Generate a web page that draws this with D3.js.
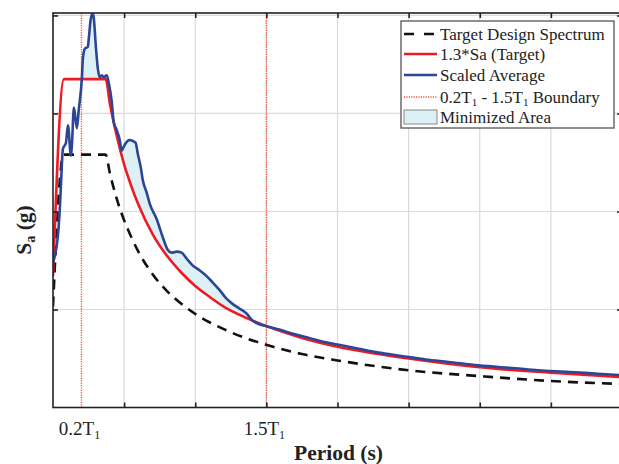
<!DOCTYPE html>
<html>
  <head>
    <meta charset="utf-8">
    <title>Scaled spectrum vs target</title>
    <script type="text/javascript" src="https://d3js.org/d3.v7.min.js"></script>
    <style>
      body { margin: 0; background: #fff; }
      text { font-family: "Liberation Serif", "Times New Roman", serif; }
    </style>
  </head>

  <body>
    <script>

    // target design spectrum
    var designT  = [0, 0.074, 0.37, 0.4, 0.45, 0.5, 0.55, 0.6, 0.7, 0.8, 0.9, 1.0, 1.1, 1.2, 1.35, 1.5, 1.75, 2.0, 2.5, 3.0, 3.5, 4.0];
    var designSa = [1.03, 2.58, 2.58, 2.39, 2.12, 1.91, 1.74, 1.59, 1.36, 1.19, 1.06, 0.955, 0.87, 0.80, 0.71, 0.64, 0.545, 0.48, 0.38, 0.32, 0.27, 0.24];

    // 1.3*Sa (red)
    var targetT  = [0, 0.077, 0.37, 0.4, 0.45, 0.5, 0.55, 0.6, 0.7, 0.8, 0.9, 1.0, 1.1, 1.2, 1.35, 1.5, 1.75, 2.0, 2.5, 3.0, 3.5, 4.0];
    var targetSa = [1.34, 3.35, 3.35, 3.10, 2.76, 2.48, 2.26, 2.07, 1.77, 1.55, 1.38, 1.24, 1.13, 1.03, 0.92, 0.83, 0.71, 0.62, 0.50, 0.41, 0.355, 0.31];

    // scaled average (blue)
    var avgT  = [0, 0.014, 0.035, 0.049, 0.056, 0.063, 0.07, 0.091, 0.105, 0.126, 0.133, 0.147, 0.168, 0.182, 0.203, 0.21, 0.224, 0.245, 0.252, 0.266, 0.28, 0.287, 0.301, 0.315, 0.329, 0.343, 0.357, 0.378, 0.392, 0.413, 0.427, 0.448, 0.469, 0.483, 0.497, 0.518, 0.539, 0.56, 0.581, 0.596, 0.617, 0.631, 0.659, 0.68, 0.729, 0.771, 0.806, 0.834, 0.869, 0.904, 0.939, 0.981, 1.03, 1.08, 1.12, 1.17, 1.22, 1.26, 1.31, 1.36, 1.40, 1.45, 1.50, 1.59, 1.68, 1.80, 1.92, 2.01, 2.15, 2.27, 2.38, 2.50, 2.62, 2.78, 2.99, 3.25, 3.41, 3.60, 3.83, 4.0];
    var avgSa = [1.48, 1.55, 1.76, 2.06, 2.27, 2.50, 2.64, 2.70, 2.88, 2.57, 2.68, 3.06, 2.85, 3.05, 3.36, 3.56, 3.66, 3.68, 3.77, 3.97, 4.02, 3.97, 3.69, 3.46, 3.37, 3.39, 3.37, 3.39, 3.31, 3.12, 2.91, 2.83, 2.73, 2.62, 2.66, 2.71, 2.73, 2.72, 2.70, 2.59, 2.45, 2.32, 2.19, 2.08, 1.92, 1.74, 1.61, 1.58, 1.59, 1.58, 1.52, 1.45, 1.40, 1.34, 1.28, 1.20, 1.11, 1.06, 1.01, 0.96, 0.89, 0.85, 0.83, 0.795, 0.755, 0.71, 0.665, 0.64, 0.60, 0.565, 0.54, 0.515, 0.49, 0.465, 0.43, 0.40, 0.38, 0.365, 0.345, 0.33];

    var boundaries = [0.2, 1.5];                    // 0.2T1 and 1.5T1 (T1 = 1 s)
    var boundaryLabels = ["0.2", "1.5"];
    var xGrid = [0.5, 1, 1.5, 2, 2.5, 3, 3.5];
    var yGrid = [1, 2, 3, 4];

    var width = 619, height = 464;
    var margin = {left: 53, top: 13, right: -3, bottom: 56.5};
    var plotW = width - margin.left - margin.right,
        plotH = height - margin.top - margin.bottom;

    var x = d3.scaleLinear().domain([0, 4]).range([0, plotW]);
    var y = d3.scaleLinear().domain([0, 4.025]).range([plotH, 0]);

    var svg = d3.select('body')
                .append('svg')
                .attr("width", width)
                .attr("height", height);

    svg.append("defs").append("clipPath")
       .attr("id", "plotClip")
       .append("rect")
       .attr("width", plotW)
       .attr("height", plotH);

    var g = svg.append('g')
               .attr("transform", "translate(" + margin.left + "," + margin.top + ")");

    // grid
    g.selectAll(".vgrid").data(xGrid).enter().append("line")
     .attr("x1", function(d) { return x(d); }).attr("x2", function(d) { return x(d); })
     .attr("y1", 0).attr("y2", plotH)
     .attr("stroke", "#dadada").attr("stroke-width", 1.2);
    g.selectAll(".hgrid").data(yGrid).enter().append("line")
     .attr("y1", function(d) { return y(d); }).attr("y2", function(d) { return y(d); })
     .attr("x1", 0).attr("x2", plotW)
     .attr("stroke", "#dadada").attr("stroke-width", 1.2);

    function pts(ts, vs) { return ts.map(function(t, i) { return [t, vs[i]]; }); }
    var design = pts(designT, designSa),
        target = pts(targetT, targetSa),
        avg = pts(avgT, avgSa);

    var line = d3.line()
                 .x(function(d) { return x(d[0]); })
                 .y(function(d) { return y(d[1]); })
                 .curve(d3.curveMonotoneX);

    var plot = g.append("g").attr("clip-path", "url(#plotClip)");

    // minimized area between blue and red inside the boundaries
    var redAt = function(t) {
      var i = d3.bisectRight(targetT, t);
      if (i <= 0) return targetSa[0];
      if (i >= targetT.length) return targetSa[targetSa.length - 1];
      var f = (t - targetT[i - 1]) / (targetT[i] - targetT[i - 1]);
      return targetSa[i - 1] + f * (targetSa[i] - targetSa[i - 1]);
    };
    var area = d3.area()
                 .x(function(d) { return x(d[0]); })
                 .y0(function(d) { return y(redAt(d[0])); })
                 .y1(function(d) { return y(Math.max(d[1], redAt(d[0]))); })
                 .curve(d3.curveMonotoneX);

    plot.append("clipPath").attr("id", "bandClip")
        .append("rect")
        .attr("x", x(boundaries[0])).attr("width", x(boundaries[1]) - x(boundaries[0]))
        .attr("y", 0).attr("height", plotH);

    plot.append("path")
        .datum(avg)
        .attr("clip-path", "url(#bandClip)")
        .attr("d", area)
        .attr("fill", "#ddf0f6");

    // boundary lines
    plot.selectAll(".bound").data(boundaries).enter().append("line")
        .attr("x1", function(d) { return x(d); }).attr("x2", function(d) { return x(d); })
        .attr("y1", 0).attr("y2", plotH)
        .attr("stroke", "#f4553a").attr("stroke-width", 1.4)
        .attr("stroke-dasharray", "1.2,1.2");

    plot.append("path").datum(design).attr("d", line)
        .attr("fill", "none").attr("stroke", "#111").attr("stroke-width", 2.6)
        .attr("stroke-dasharray", "10,7");
    plot.append("path").datum(target).attr("d", line)
        .attr("fill", "none").attr("stroke", "#ed1c24").attr("stroke-width", 2.6);
    plot.append("path").datum(avg).attr("d", line)
        .attr("fill", "none").attr("stroke", "#2b4597").attr("stroke-width", 2.6);

    // box with inward ticks on all sides
    g.append("rect").attr("width", plotW).attr("height", plotH)
     .attr("fill", "none").attr("stroke", "#222").attr("stroke-width", 1.6);

    var tickLen = 5;
    g.append("g").attr("transform", "translate(0," + plotH + ")")
     .call(d3.axisBottom(x).tickValues(xGrid).tickSizeInner(-tickLen).tickSizeOuter(0).tickFormat(""));
    g.append("g")
     .call(d3.axisTop(x).tickValues(xGrid).tickSizeInner(-tickLen).tickSizeOuter(0).tickFormat(""));
    g.append("g")
     .call(d3.axisLeft(y).tickValues(yGrid).tickSizeInner(-tickLen).tickSizeOuter(0).tickFormat(""));
    g.append("g").attr("transform", "translate(" + plotW + ",0)")
     .call(d3.axisRight(y).tickValues(yGrid).tickSizeInner(-tickLen).tickSizeOuter(0).tickFormat(""));
    g.selectAll(".domain").remove();
    g.selectAll(".tick line").attr("stroke", "#222").attr("stroke-width", 1.6);

    // boundary tick labels
    var lab = g.selectAll(".blab").data(boundaries).enter().append("text")
               .attr("x", function(d) { return x(d) - 2; })
               .attr("y", plotH + 27)
               .attr("text-anchor", "middle")
               .attr("font-size", 19)
               .attr("fill", "#222");
    lab.append("tspan").text(function(d, i) { return boundaryLabels[i] + "T"; });
    lab.append("tspan").attr("font-size", 12).attr("dy", 4).text("1");

    // axis titles
    svg.append("text")
       .attr("x", margin.left + plotW / 2 + 1)
       .attr("y", 460)
       .attr("text-anchor", "middle")
       .attr("font-size", 21.5).attr("font-weight", "bold").attr("fill", "#222")
       .text("Period (s)");

    var yl = svg.append("text")
       .attr("transform", "translate(31,230) rotate(-90)")
       .attr("text-anchor", "middle")
       .attr("font-size", 21.5).attr("font-weight", "bold").attr("fill", "#222");
    yl.append("tspan").text("S");
    yl.append("tspan").attr("font-size", 14).attr("dy", 4).text("a");
    yl.append("tspan").attr("dy", -4).text(" (g)");

    // legend
    var lg = svg.append("g").attr("transform", "translate(401,21)");
    lg.append("rect").attr("width", 213).attr("height", 107)
      .attr("fill", "#fff").attr("stroke", "#555").attr("stroke-width", 1.3);
    var rows = [13, 33, 54, 76, 96];
    var names = ["Target Design Spectrum", "1.3*Sa (Target)", "Scaled Average", null, "Minimized Area"];

    lg.append("line").attr("x1", 3).attr("x2", 36).attr("y1", rows[0]).attr("y2", rows[0])
      .attr("stroke", "#111").attr("stroke-width", 2.6).attr("stroke-dasharray", "10,10");
    lg.append("line").attr("x1", 3).attr("x2", 36).attr("y1", rows[1]).attr("y2", rows[1])
      .attr("stroke", "#ed1c24").attr("stroke-width", 2.6);
    lg.append("line").attr("x1", 3).attr("x2", 36).attr("y1", rows[2]).attr("y2", rows[2])
      .attr("stroke", "#2b4597").attr("stroke-width", 2.6);
    lg.append("line").attr("x1", 3).attr("x2", 36).attr("y1", rows[3]).attr("y2", rows[3])
      .attr("stroke", "#f4553a").attr("stroke-width", 1.4).attr("stroke-dasharray", "1.2,1.2");
    lg.append("rect").attr("x", 3).attr("y", rows[4] - 7).attr("width", 33).attr("height", 14)
      .attr("fill", "#ddf0f6").attr("stroke", "#888").attr("stroke-width", 1);

    names.forEach(function(n, i) {
      var t = lg.append("text").attr("x", 39).attr("y", rows[i] + 6)
                .attr("font-size", 17).attr("fill", "#222");
      if (n) { t.text(n); return; }
      t.append("tspan").text("0.2T");
      t.append("tspan").attr("font-size", 11).attr("dy", 3).text("1");
      t.append("tspan").attr("dy", -3).text(" - 1.5T");
      t.append("tspan").attr("font-size", 11).attr("dy", 3).text("1");
      t.append("tspan").attr("dy", -3).text(" Boundary");
    });

    </script>
  </body>
</html>
